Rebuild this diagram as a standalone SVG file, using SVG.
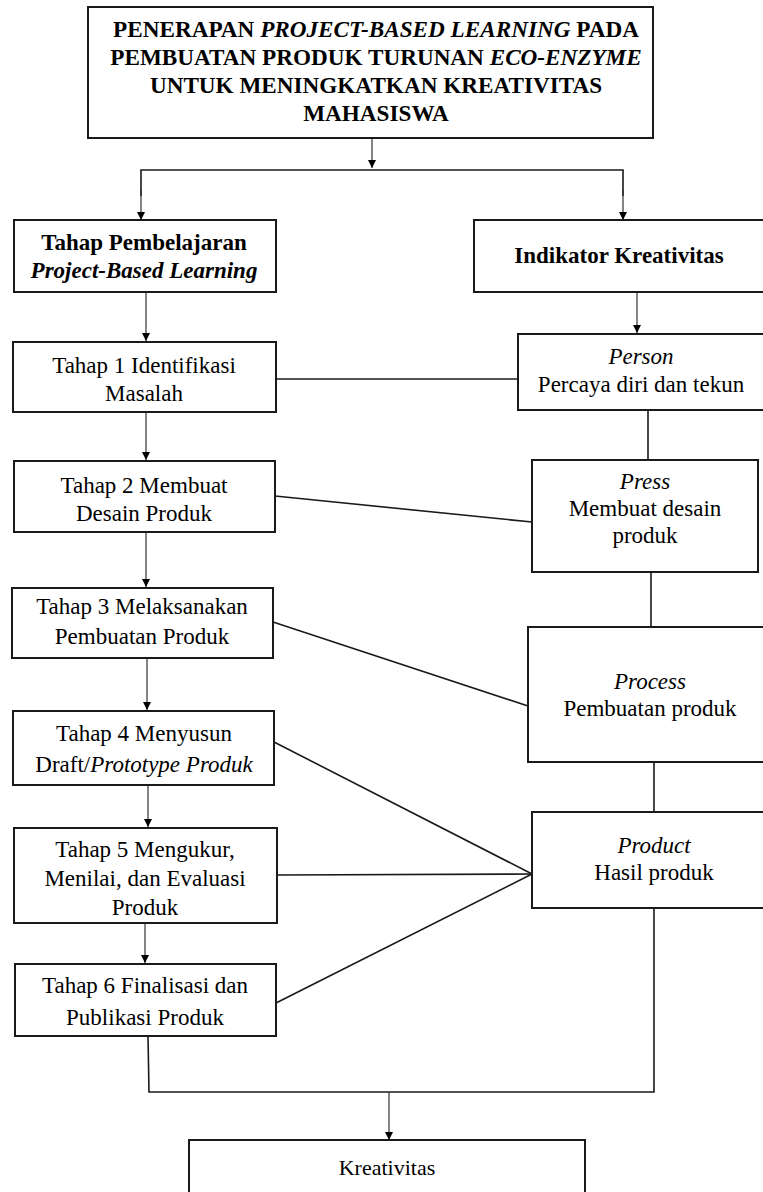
<svg xmlns="http://www.w3.org/2000/svg" width="763" height="1192" viewBox="0 0 763 1192" font-family="'Liberation Serif', 'Times New Roman', 'DejaVu Serif', serif">
<defs>
<marker id="arr" viewBox="0 0 10 10" refX="10" refY="5" markerWidth="8" markerHeight="8" orient="auto" markerUnits="userSpaceOnUse">
<path d="M0,0 L10,5 L0,10 z" fill="#000"/>
</marker>
<style>
.box{fill:#fff;stroke:#1a1a1a;stroke-width:2}
.ln{fill:none;stroke:#1a1a1a;stroke-width:1.6}
.ar{fill:none;stroke:#333;stroke-width:1.2;marker-end:url(#arr)}
text{font-family:'Liberation Serif','Times New Roman','DejaVu Serif',serif;fill:#000;text-anchor:middle}
.t{font-size:23.2px;font-weight:bold}
.h{font-size:23px;font-weight:bold}
.n{font-size:23px}
.i{font-style:italic}
</style>
</defs>
<rect width="763" height="1192" fill="#fff"/>
<g id="connectors">
<line class="ar" x1="372" y1="138" x2="372" y2="168"/>
<polyline class="ln" points="141,196 141,170 623,170 623,196"/>
<line class="ar" x1="141" y1="190" x2="141" y2="220"/>
<line class="ar" x1="623" y1="190" x2="623" y2="220"/>
<line class="ar" x1="146" y1="292" x2="146" y2="341"/>
<line class="ar" x1="637" y1="292" x2="637" y2="333"/>
<line class="ar" x1="146" y1="412" x2="146" y2="460"/>
<line class="ar" x1="146" y1="532" x2="146" y2="587"/>
<line class="ar" x1="147" y1="658" x2="147" y2="710"/>
<line class="ar" x1="148" y1="785" x2="148" y2="827"/>
<line class="ar" x1="145" y1="923" x2="145" y2="963"/>
<line class="ln" x1="276" y1="379" x2="518" y2="379"/>
<line class="ln" x1="275" y1="496" x2="532" y2="522"/>
<line class="ln" x1="273" y1="622" x2="528" y2="706"/>
<line class="ln" x1="274" y1="742" x2="532" y2="874"/>
<line class="ln" x1="277" y1="875" x2="532" y2="874"/>
<line class="ln" x1="276" y1="1003" x2="532" y2="874"/>
<line class="ln" x1="648" y1="410" x2="648" y2="460"/>
<line class="ln" x1="651" y1="572" x2="651" y2="627"/>
<line class="ln" x1="654" y1="762" x2="654" y2="812"/>
<polyline class="ln" points="148,1036 149,1092 654,1092 654,908"/>
<line class="ar" x1="389" y1="1092" x2="389" y2="1140"/>
</g>
<g id="title">
<rect class="box" x="88" y="7" width="565" height="131"/>
<text class="t" x="376" y="37">PENERAPAN <tspan class="i">PROJECT-BASED LEARNING</tspan> PADA</text>
<text class="t" x="376" y="65">PEMBUATAN PRODUK TURUNAN <tspan class="i">ECO-ENZYME</tspan></text>
<text class="t" x="376" y="93">UNTUK MENINGKATKAN KREATIVITAS</text>
<text class="t" x="376" y="121">MAHASISWA</text>
</g>
<g id="tahap-pbl">
<rect class="box" x="14" y="220" width="262" height="72"/>
<text class="h" x="144" y="250">Tahap Pembelajaran</text>
<text class="h i" x="144" y="278">Project-Based Learning</text>
</g>
<g id="indikator">
<rect class="box" x="474" y="220" width="290" height="72"/>
<text class="h" x="619" y="263">Indikator Kreativitas</text>
</g>
<g id="tahap1">
<rect class="box" x="13" y="342" width="263" height="70"/>
<text class="n" x="144" y="373">Tahap 1 Identifikasi</text>
<text class="n" x="144" y="401">Masalah</text>
</g>
<g id="person">
<rect class="box" x="518" y="334" width="246" height="76"/>
<text class="n i" x="641" y="364">Person</text>
<text class="n" x="641" y="392">Percaya diri dan tekun</text>
</g>
<g id="tahap2">
<rect class="box" x="14" y="461" width="261" height="71"/>
<text class="n" x="144" y="493">Tahap 2 Membuat</text>
<text class="n" x="144" y="521">Desain Produk</text>
</g>
<g id="press">
<rect class="box" x="532" y="460" width="226" height="112"/>
<text class="n i" x="645" y="489">Press</text>
<text class="n" x="645" y="516">Membuat desain</text>
<text class="n" x="645" y="543">produk</text>
</g>
<g id="tahap3">
<rect class="box" x="12" y="588" width="261" height="70"/>
<text class="n" x="142" y="614">Tahap 3 Melaksanakan</text>
<text class="n" x="142" y="644">Pembuatan Produk</text>
</g>
<g id="process">
<rect class="box" x="528" y="627" width="236" height="135"/>
<text class="n i" x="650" y="689">Process</text>
<text class="n" x="650" y="716">Pembuatan produk</text>
</g>
<g id="tahap4">
<rect class="box" x="13" y="711" width="261" height="74"/>
<text class="n" x="144" y="741">Tahap 4 Menyusun</text>
<text class="n" x="144" y="772">Draft/<tspan class="i">Prototype Produk</tspan></text>
</g>
<g id="tahap5">
<rect class="box" x="14" y="828" width="263" height="95"/>
<text class="n" x="145" y="857">Tahap 5 Mengukur,</text>
<text class="n" x="145" y="886">Menilai, dan Evaluasi</text>
<text class="n" x="145" y="915">Produk</text>
</g>
<g id="product">
<rect class="box" x="532" y="812" width="232" height="96"/>
<text class="n i" x="654" y="853">Product</text>
<text class="n" x="654" y="880">Hasil produk</text>
</g>
<g id="tahap6">
<rect class="box" x="15" y="964" width="261" height="72"/>
<text class="n" x="145" y="993">Tahap 6 Finalisasi dan</text>
<text class="n" x="145" y="1025">Publikasi Produk</text>
</g>
<g id="kreativitas">
<rect class="box" x="189" y="1140" width="396" height="70"/>
<text class="n" x="387" y="1175" style="font-size:22px">Kreativitas</text>
</g>
</svg>
